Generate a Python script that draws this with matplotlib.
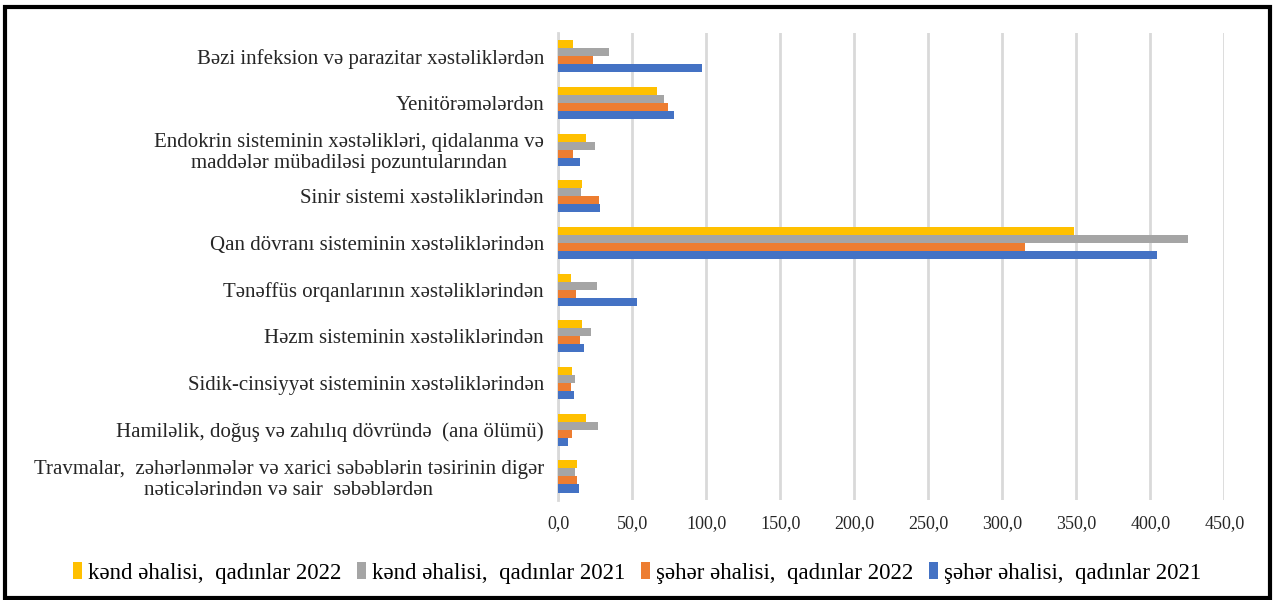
import numpy as np
import matplotlib
matplotlib.use('Agg')
import matplotlib.pyplot as plt
from matplotlib.ticker import FuncFormatter
from matplotlib.patches import Rectangle

plt.rcParams['font.family'] = ['Liberation Serif', 'DejaVu Serif']

categories = [
    'Bəzi infeksion və parazitar xəstəliklərdən',
    'Yenitörəmələrdən',
    'Endokrin sisteminin xəstəlikləri, qidalanma və\nmaddələr mübadiləsi pozuntularından',
    'Sinir sistemi xəstəliklərindən',
    'Qan dövranı sisteminin xəstəliklərindən',
    'Tənəffüs orqanlarının xəstəliklərindən',
    'Həzm sisteminin xəstəliklərindən',
    'Sidik-cinsiyyət sisteminin xəstəliklərindən',
    'Hamiləlik, doğuş və zahılıq dövründə  (ana ölümü)',
    'Travmalar,  zəhərlənmələr və xarici səbəblərin təsirinin digər\nnəticələrindən və sair  səbəblərdən',
]

kend_2022 = [10.3, 66.7, 18.9, 16.4, 348.3, 8.8, 16.4, 9.5, 18.9, 13.1]
kend_2021 = [34.7, 71.9, 25.0, 15.5, 425.6, 26.1, 22.5, 11.2, 26.8, 11.2]
seher_2022 = [23.4, 74.6, 10.3, 27.7, 315.6, 12.2, 14.9, 8.8, 9.5, 13.1]
seher_2021 = [97.1, 78.0, 14.6, 28.6, 404.7, 53.6, 17.3, 10.6, 7.0, 13.9]

series = [
    ('kənd əhalisi,  qadınlar 2022', kend_2022, '#FFC000'),
    ('kənd əhalisi,  qadınlar 2021', kend_2021, '#A5A5A5'),
    ('şəhər əhalisi,  qadınlar 2022', seher_2022, '#ED7D31'),
    ('şəhər əhalisi,  qadınlar 2021', seher_2021, '#4472C4'),
]

fig = plt.figure(figsize=(12.74, 6.0), dpi=100)
ax = fig.add_axes([0.438, 0.167, 0.523, 0.778])

y = np.arange(len(categories))
h = 0.172
for i, (name, vals, col) in enumerate(series):
    ax.barh(y + (i - 1.5) * h, vals, height=h, color=col, label=name, zorder=3)

ax.set_ylim(len(categories) - 0.5, -0.5)
ax.set_xlim(0, 450)
ax.set_xticks(np.arange(0, 451, 50))
ax.xaxis.set_major_formatter(FuncFormatter(lambda v, p: f'{v:.1f}'.replace('.', ',')))
ax.set_yticks(y)
ax.set_yticklabels(categories)
for t in ax.get_yticklabels():
    t.set_multialignment('center')
    t.set_fontsize(15)
    t.set_linespacing(1.12)
for t in ax.get_xticklabels():
    t.set_fontsize(13)
ax.tick_params(axis='both', length=0, colors='#262626')
ax.tick_params(axis='y', pad=10)
ax.tick_params(axis='x', pad=11)

ax.grid(axis='x', color='#D9D9D9', linewidth=2, zorder=0)
for s in ['top', 'right', 'bottom']:
    ax.spines[s].set_visible(False)
ax.spines['left'].set_color('#D9D9D9')
ax.spines['left'].set_linewidth(2)

fig.legend(loc='lower center', bbox_to_anchor=(0.5, -0.007), ncol=4, frameon=False,
           fontsize=16.5, handlelength=0.4, handleheight=0.8, handletextpad=0.25,
           columnspacing=0.7)

fig.patches.append(Rectangle((0.004, 0.004), 0.993, 0.985, transform=fig.transFigure,
                             fill=False, edgecolor='black', linewidth=3))

fig.savefig('out.png', dpi=100)
